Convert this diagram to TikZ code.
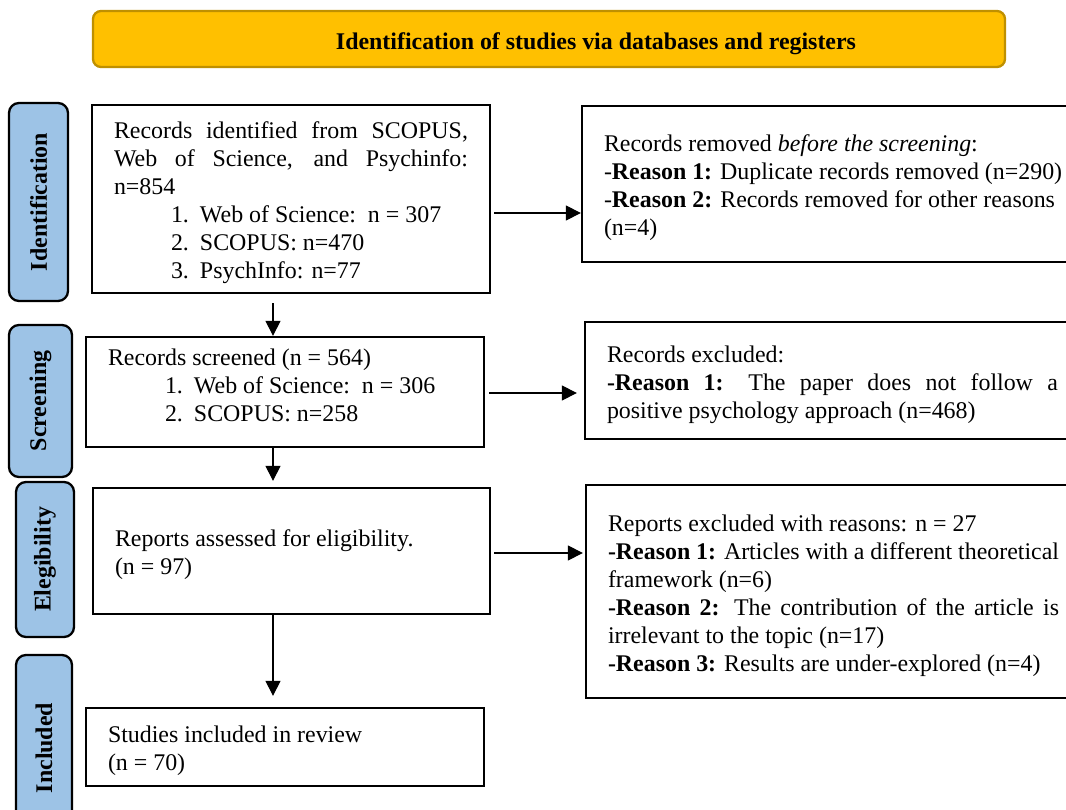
\documentclass[tikz,border=0pt]{standalone}
\usepackage{fontspec}
\setmainfont{Liberation Serif}
\usetikzlibrary{arrows.meta}

\definecolor{titlegold}{HTML}{FFC000}
\definecolor{titleedge}{HTML}{BF9000}
\definecolor{stageblue}{HTML}{9DC3E6}

\setlength{\parindent}{0pt}
\hyphenpenalty=10000
\tolerance=10000
\newcommand{\listline}[2]{\par\hspace*{1.14cm}\makebox[0.58cm][l]{#1}#2}

\begin{document}
\begin{tikzpicture}[
    font=\fontsize{13.6pt}{15.9pt}\selectfont,
    box/.style={draw, line width=1.3pt, align=justify, inner xsep=0.44cm, inner ysep=0pt, text height=0.49cm},
    stage/.style={draw, line width=1.3pt, fill=stageblue, rounded corners=0.2cm, rotate=90,
        font=\fontsize{13.6pt}{15.9pt}\selectfont\bfseries},
    arr/.style={-{Triangle[length=0.3cm,width=0.3cm]}, line width=0.6pt}
]
    \clip (0, 0) rectangle (21.32, 16.18);

    % banner
    \node (title) [draw=titleedge, fill=titlegold, line width=1.3pt, rounded corners=0.16cm,
        minimum width=18.24cm, minimum height=1.12cm, font=\fontsize{13.6pt}{15.9pt}\selectfont\bfseries]
        at (10.98, 15.40) {\raisebox{-0.22cm}[0pt][0pt]{\hspace*{1.88cm}Identification of studies via databases and registers}};

    % stages on the left
    \node (idlab) [stage, minimum width=3.96cm, minimum height=1.18cm] at (0.77, 12.14) {Identification};
    \node (scrlab) [stage, minimum width=3.04cm, minimum height=1.26cm] at (0.81, 8.16) {Screening};
    \node (ellab) [stage, minimum width=3.10cm, minimum height=1.16cm] at (0.90, 4.99) {Elegibility};
    \node (inclab) [stage, minimum width=3.72cm, minimum height=1.12cm] at (0.88, 1.22) {Included};

    % main column
    \node (idbox) [box, text width=7.08cm, minimum height=3.76cm] at (5.82, 12.20) {%
        Records identified from SCOPUS,\linebreak Web of Science, and Psychinfo:\linebreak n=854
        \listline{1.}{Web of Science:\ \ n = 307}
        \listline{2.}{SCOPUS: n=470}
        \listline{3.}{PsychInfo: n=77}};
    \node (scrbox) [box, text width=7.08cm, minimum height=2.20cm, text depth=1.56cm] at (5.70, 8.34) {%
        Records screened (n = 564)
        \listline{1.}{Web of Science:\ \ n = 306}
        \listline{2.}{SCOPUS: n=258}};
    \node (elbox) [box, text width=7.06cm, minimum height=2.52cm] at (5.83, 5.16) {%
        Reports assessed for eligibility.\par (n = 97)};
    \node (incbox) [box, text width=7.08cm, minimum height=1.56cm] at (5.70, 1.24) {%
        Studies included in review\par (n = 70)};

    % exclusions on the right (run off the page)
    \node (remobox) [box, text width=9.02cm, minimum height=3.12cm] at (16.59, 12.50) {%
        Records removed \textit{before the screening}:\par
        \mbox{-\textbf{Reason 1:} Duplicate records removed (n=290)}\par
        -\textbf{Reason 2:} Records removed for other reasons\linebreak (n=4)};
    \node (exclbox) [box, text width=9.02cm, minimum height=2.34cm] at (16.65, 8.57) {%
        Records excluded:\par
        \textbf{-Reason 1:} The paper does not follow a\linebreak positive psychology approach (n=468)};
    \node (repexbox) [box, text width=9.02cm, minimum height=4.26cm] at (16.67, 4.35) {%
        Reports excluded with reasons: n = 27\par
        \textbf{-Reason 1:} Articles with a different theoretical\linebreak framework (n=6)\par
        \textbf{-Reason 2:} The contribution of the article is\linebreak irrelevant to the topic (n=17)\par
        \textbf{-Reason 3:} Results are under-explored (n=4)};

    % flow down
    \draw[arr, shorten <=0.18cm] ([xshift=-0.36cm]idbox.south) -- ([xshift=-0.36cm]idbox.south |- scrbox.north);
    \draw[arr, shorten >=0.12cm] ([xshift=-0.24cm]scrbox.south) -- ([xshift=-0.24cm]scrbox.south |- elbox.north);
    \draw[arr, shorten >=0.22cm] ([xshift=-0.37cm]elbox.south) -- ([xshift=-0.37cm]elbox.south |- incbox.north);

    % flow right
    \draw[arr, shorten <=0.06cm] ([yshift=-0.28cm]idbox.east) -- ([yshift=-0.28cm]idbox.east -| remobox.west);
    \draw[arr, shorten <=0.08cm, shorten >=0.14cm] ([yshift=-0.02cm]scrbox.east) -- ([yshift=-0.02cm]scrbox.east -| exclbox.west);
    \draw[arr, shorten <=0.06cm, shorten >=0.04cm] ([yshift=-0.04cm]elbox.east) -- ([yshift=-0.04cm]elbox.east -| repexbox.west);
\end{tikzpicture}
\end{document}
